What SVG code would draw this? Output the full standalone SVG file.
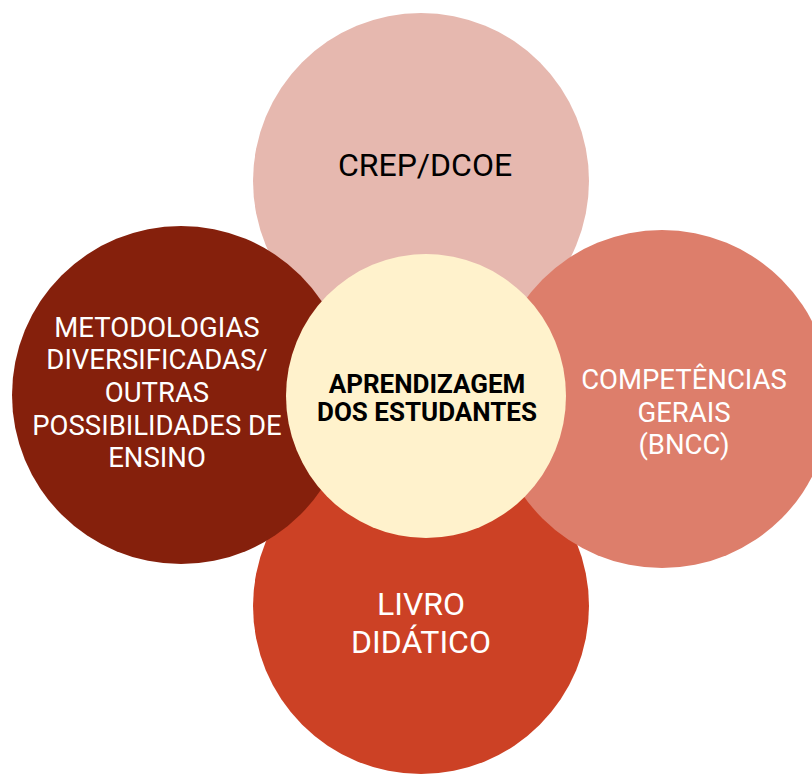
<svg xmlns="http://www.w3.org/2000/svg" width="812" height="775" viewBox="0 0 812 775">
  <style>
    .lbl { font-family: Roboto, "Liberation Sans", sans-serif; text-anchor: middle; }
    .side { font-size: 27.5px; fill: #ffffff; }
    .big { font-size: 32px; }
    .center { font-size: 26px; font-weight: bold; fill: #000000; }
  </style>
  <rect width="812" height="775" fill="#ffffff"/>
  <g id="node-crep">
    <circle cx="421" cy="181" r="168" fill="#E6B8AF"/>
    <text class="lbl big" x="425" y="176" fill="#000000">CREP/DCOE</text>
  </g>
  <g id="node-livro">
    <circle cx="421" cy="606" r="168" fill="#CC4125"/>
    <text class="lbl big" x="421" y="615" fill="#ffffff">LIVRO</text>
    <text class="lbl big" x="421" y="653" fill="#ffffff">DIDÁTICO</text>
  </g>
  <g id="node-competencias">
    <circle cx="662" cy="399" r="169" fill="#DD7E6B"/>
    <text class="lbl side" x="684" y="389">COMPETÊNCIAS</text>
    <text class="lbl side" x="684" y="422">GERAIS</text>
    <text class="lbl side" x="684" y="454">(BNCC)</text>
  </g>
  <g id="node-metodologias">
    <circle cx="181" cy="395" r="169" fill="#85200C"/>
    <text class="lbl side" x="157" y="337">METODOLOGIAS</text>
    <text class="lbl side" x="157" y="369">DIVERSIFICADAS/</text>
    <text class="lbl side" x="157" y="402">OUTRAS</text>
    <text class="lbl side" x="157" y="435">POSSIBILIDADES DE</text>
    <text class="lbl side" x="157" y="467">ENSINO</text>
  </g>
  <g id="node-aprendizagem">
    <ellipse cx="426" cy="396" rx="140" ry="142" fill="#FFF2CC"/>
    <text class="lbl center" x="427" y="393">APRENDIZAGEM</text>
    <text class="lbl center" x="427" y="421">DOS ESTUDANTES</text>
  </g>
  <g id="connectors"></g>
</svg>
